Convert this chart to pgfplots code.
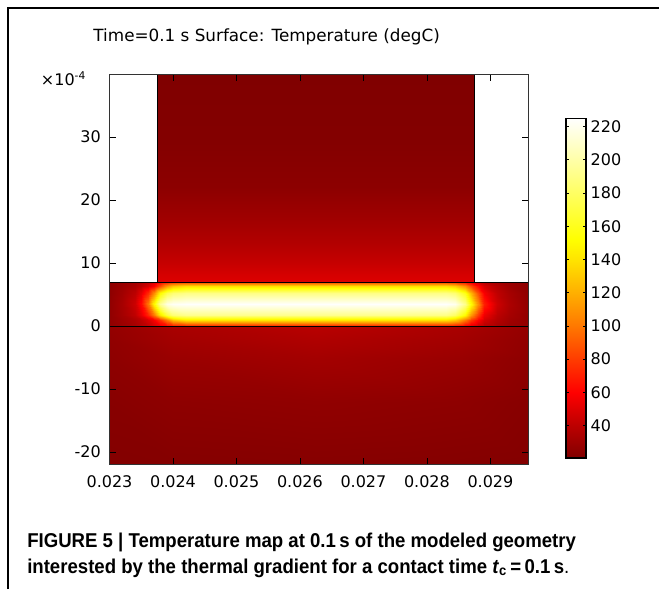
\documentclass[border=0pt]{standalone}
\usepackage{pgfplots}
\pgfplotsset{compat=1.18}
\usepackage{fontspec}
\setmainfont{DejaVu Sans}
\newfontfamily\capfont[FakeStretch=0.93]{Liberation Sans}

% dark red -> red -> orange -> yellow -> white (positions = T - 20.5)
\pgfplotsset{colormap={comsolheat}{
  rgb255(0pt)=(128,0,0) rgb255(19.5pt)=(188,0,0) rgb255(39.5pt)=(255,0,0)
  rgb255(59.5pt)=(255,60,0) rgb255(79.5pt)=(255,120,0) rgb255(99.5pt)=(255,175,0)
  rgb255(119.5pt)=(255,228,0) rgb255(131.5pt)=(255,255,0) rgb255(204.5pt)=(255,255,255)}}

\newcommand\tickfont{\fontsize{12}{14}\selectfont}

\begin{document}
\begin{tikzpicture}
\useasboundingbox (0,0) rectangle (494.25pt,-441.75pt);
\draw[line width=1.5pt] (6pt,-441.75pt) -- (6pt,-6pt) -- (494.25pt,-6pt);

\node[font=\fontsize{12.6}{14}\selectfont] at (200pt,-27.75pt) {Time=0.1 s Surface: Temperature (degC)};
\node[font=\tickfont] at (47.6pt,-59pt) {×10\textsuperscript{-4}};

\begin{axis}[
    at={(82.125pt,-55.5pt)}, anchor=north west,
    scale only axis, width=314.25pt, height=293pt,
    xmin=0.023, xmax=0.0296, ymin=-22, ymax=40,
    scaled x ticks=false,
    colormap name=comsolheat,
    point meta min=20.5, point meta max=225,
    axis on top,
    axis line style={black!80, line width=0.6pt},
    tick style={black, line width=0.6pt},
    tick align=inside, major tick length=5pt,
    xtick={0.023,0.024,0.025,0.026,0.027,0.028,0.029},
    xticklabels={0.023,0.024,0.025,0.026,0.027,0.028,0.029},
    ytick={-20,-10,0,10,20,30},
    yticklabels={-20,-10,0,10,20,30},
    ticklabel style={font=\tickfont},
    xticklabel style={yshift=-4.5pt},
    yticklabel style={xshift=-3pt},
    colorbar,
    colorbar style={
        at={(parent axis.north east)}, anchor=north west,
        xshift=19.6pt, yshift=-33.2pt,
        scale only axis, width=15pt, height=254.8pt,
        ytick={40,60,80,100,120,140,160,180,200,220},
        yticklabels={40,60,80,100,120,140,160,180,200,220},
        ytick pos=both, yticklabel pos=right,
        tick align=inside, major tick length=2.5pt,
        tick style={black, line width=0.6pt},
        axis line style={black, line width=0.8pt},
        yticklabel style={font=\tickfont, xshift=0pt},
    },
]
% lower region
\addplot[surf, shader=interp, mesh/cols=5, point meta=explicit]
table[x index=0, y index=1, meta index=2] {
0.02300 -22 21.5
0.02400 -22 22
0.02625 -22 22.5
0.02850 -22 22
0.02960 -22 21.5

0.02300 -12 23
0.02400 -12 25
0.02625 -12 26
0.02850 -12 25
0.02960 -12 23

0.02300 -5 25
0.02400 -5 29
0.02625 -5 32
0.02850 -5 29
0.02960 -5 25

0.02300 -2 26
0.02400 -2 32
0.02625 -2 36
0.02850 -2 32
0.02960 -2 26

0.02300 0 27
0.02400 0 34
0.02625 0 39
0.02850 0 34
0.02960 0 27
};
% heated layer
\addplot[surf, shader=interp, mesh/cols=22, point meta=explicit]
table[x index=0, y index=1, meta index=2] {
0.02300 0 26
0.02320 0 29
0.02340 0 33
0.02350 0 37
0.02360 0 42
0.02370 0 48
0.02380 0 55
0.02390 0 62
0.02400 0 67
0.02420 0 70
0.02500 0 70
0.02625 0 70
0.02750 0 70
0.02830 0 69
0.02845 0 66
0.02860 0 58
0.02870 0 50
0.02880 0 43
0.02890 0 38
0.02910 0 33
0.02930 0 29
0.02960 0 26

0.02300 1.0 26
0.02320 1.0 30
0.02340 1.0 35
0.02350 1.0 40
0.02360 1.0 48
0.02370 1.0 58
0.02380 1.0 75
0.02390 1.0 100
0.02400 1.0 125
0.02420 1.0 140
0.02500 1.0 140
0.02625 1.0 140
0.02750 1.0 140
0.02830 1.0 138
0.02845 1.0 128
0.02860 1.0 100
0.02870 1.0 78
0.02880 1.0 60
0.02890 1.0 47
0.02910 1.0 37
0.02930 1.0 31
0.02960 1.0 26

0.02300 1.8 26
0.02320 1.8 32
0.02340 1.8 41
0.02350 1.8 52
0.02360 1.8 72
0.02370 1.8 100
0.02380 1.8 140
0.02390 1.8 170
0.02400 1.8 185
0.02420 1.8 192
0.02500 1.8 192
0.02625 1.8 192
0.02750 1.8 192
0.02830 1.8 190
0.02845 1.8 180
0.02860 1.8 150
0.02870 1.8 112
0.02880 1.8 80
0.02890 1.8 55
0.02910 1.8 40
0.02930 1.8 33
0.02960 1.8 26

0.02300 3.5 26
0.02320 3.5 33
0.02340 3.5 45
0.02350 3.5 62
0.02360 3.5 100
0.02370 3.5 150
0.02380 3.5 195
0.02390 3.5 217
0.02400 3.5 222
0.02420 3.5 224
0.02500 3.5 224
0.02625 3.5 224
0.02750 3.5 224
0.02830 3.5 224
0.02845 3.5 220
0.02860 3.5 192
0.02870 3.5 152
0.02880 3.5 108
0.02890 3.5 70
0.02910 3.5 45
0.02930 3.5 35
0.02960 3.5 26

0.02300 5.3 25
0.02320 5.3 31
0.02340 5.3 40
0.02350 5.3 52
0.02360 5.3 74
0.02370 5.3 108
0.02380 5.3 150
0.02390 5.3 175
0.02400 5.3 185
0.02420 5.3 190
0.02500 5.3 190
0.02625 5.3 190
0.02750 5.3 190
0.02830 5.3 190
0.02845 5.3 184
0.02860 5.3 158
0.02870 5.3 122
0.02880 5.3 86
0.02890 5.3 58
0.02910 5.3 41
0.02930 5.3 33
0.02960 5.3 25

0.02300 6.3 25
0.02320 6.3 29
0.02340 6.3 34
0.02350 6.3 40
0.02360 6.3 48
0.02370 6.3 60
0.02380 6.3 85
0.02390 6.3 112
0.02400 6.3 128
0.02420 6.3 138
0.02500 6.3 138
0.02625 6.3 138
0.02750 6.3 138
0.02830 6.3 138
0.02845 6.3 130
0.02860 6.3 108
0.02870 6.3 84
0.02880 6.3 62
0.02890 6.3 48
0.02910 6.3 37
0.02930 6.3 30
0.02960 6.3 25

0.02300 7.0 25
0.02320 7.0 28
0.02340 7.0 32
0.02350 7.0 36
0.02360 7.0 42
0.02370 7.0 50
0.02380 7.0 60
0.02390 7.0 70
0.02400 7.0 76
0.02420 7.0 80
0.02500 7.0 80
0.02625 7.0 80
0.02750 7.0 80
0.02830 7.0 80
0.02845 7.0 76
0.02860 7.0 66
0.02870 7.0 56
0.02880 7.0 46
0.02890 7.0 39
0.02910 7.0 33
0.02930 7.0 29
0.02960 7.0 25
};
% upper block
\addplot[surf, shader=interp, mesh/cols=2, point meta=explicit]
table[x index=0, y index=1, meta index=2] {
0.02375 7 50
0.02875 7 50

0.02375 8.4 47
0.02875 8.4 47

0.02375 10 43
0.02875 10 43

0.02375 13 37
0.02875 13 37

0.02375 17 31
0.02875 17 31

0.02375 22 24.5
0.02875 22 24.5

0.02375 30 21.5
0.02875 30 21.5

0.02375 40 20.5
0.02875 40 20.5
};
% boundaries
\addplot[black, no marks, line width=0.6pt] coordinates {(0.023,0) (0.0296,0)};
\addplot[black, no marks, line width=0.6pt] coordinates {(0.023,7) (0.0296,7)};
\addplot[black, no marks, line width=0.6pt] coordinates {(0.02375,7) (0.02375,40)};
\addplot[black, no marks, line width=0.6pt] coordinates {(0.02875,7) (0.02875,40)};
\end{axis}

\node[anchor=base west, inner sep=0pt, font=\capfont\fontsize{15}{18}\selectfont\bfseries] at (20.25pt,-410.25pt)
  {FIGURE 5 | Temperature map at 0.1\,s of the modeled geometry};
\node[anchor=base west, inner sep=0pt, font=\capfont\fontsize{15}{18}\selectfont\bfseries] at (20.25pt,-429.75pt)
  {interested by the thermal gradient for a contact time \textit{t}\textsubscript{c}\,=\,0.1\,s\textmd{.}};
\end{tikzpicture}
\end{document}
